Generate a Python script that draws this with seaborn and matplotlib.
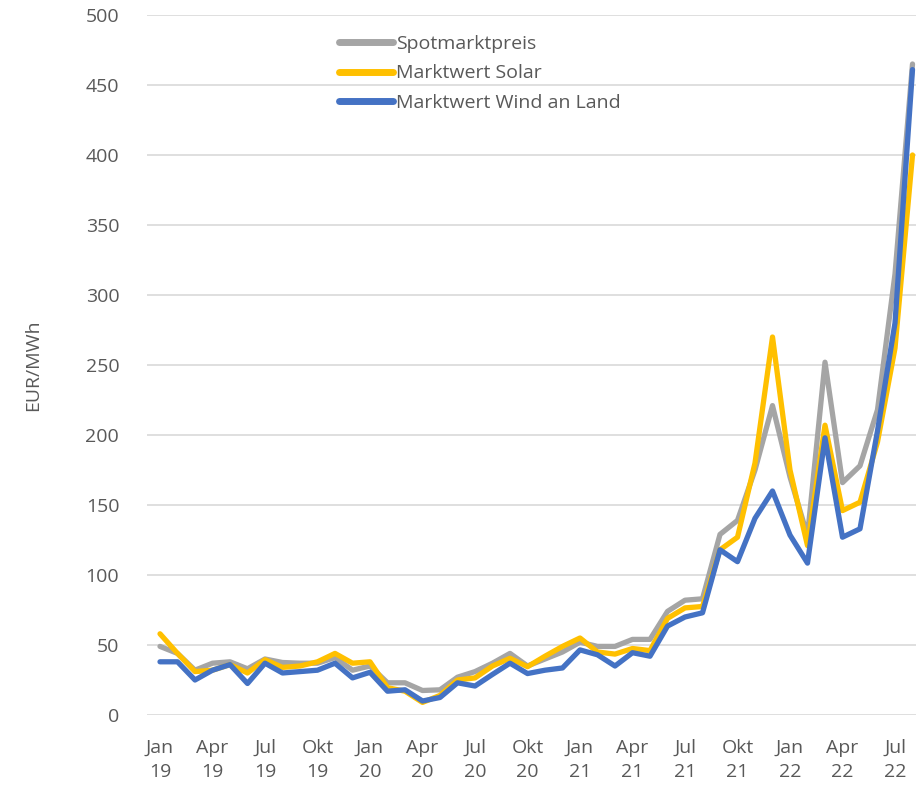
import matplotlib
matplotlib.use("Agg")
import matplotlib.pyplot as plt
import seaborn as sns
import pandas as pd
import numpy as np

# ---- data ----
month_names = ["Jan", "Feb", "Mär", "Apr", "Mai", "Jun", "Jul", "Aug", "Sep", "Okt", "Nov", "Dez"]
years = ["19", "20", "21", "22"]
n_months = 44

spot = [49, 44, 32, 37, 38, 33, 40, 37.5, 37, 37, 41, 32,
        35, 23, 23, 17.5, 18, 27, 31, 37, 44, 35, 40, 45,
        52, 49, 49, 54, 54, 74, 82, 83, 129, 139, 175, 221,
        170, 128, 252, 166, 178, 218, 315, 465]
solar = [58, 44, 31, 32, 36, 30, 39.5, 34, 35, 38, 44, 37,
         38, 19.5, 17, 9, 14, 25, 26.5, 35, 40.5, 34.5, 42, 49,
         55, 45, 43.5, 47.5, 46, 69, 76.5, 77.5, 118, 127, 180, 270,
         175, 121, 207, 146, 152, 195, 262, 400]
wind = [38, 38, 25, 32, 36, 22.5, 37, 30, 31, 32, 37, 26.5,
        30.5, 17, 18, 10, 12.5, 23, 20.7, 29, 37, 29.6, 32, 33.6,
        46.5, 43, 35, 44.5, 42, 63.5, 70, 73, 118, 109.5, 140.5, 160,
        128.5, 108.5, 198, 127, 133, 203, 280, 461]

series_names = ["Spotmarktpreis", "Marktwert Solar", "Marktwert Wind an Land"]
colors = ["#A5A5A5", "#FFC000", "#4472C4"]

tick_pos = list(range(0, n_months, 3))
tick_labels = [f"{month_names[i % 12]}\n{years[i // 12]}" for i in tick_pos]

df = pd.DataFrame({
    "idx": list(range(n_months)) * 3,
    "value": spot + solar + wind,
    "series": [series_names[0]] * n_months + [series_names[1]] * n_months + [series_names[2]] * n_months,
})

# ---- plot ----
sns.set_theme(style="white")
plt.rcParams["font.family"] = ["Open Sans", "DejaVu Sans"]

fig = plt.figure(figsize=(9.16, 7.85), dpi=100)
ax = fig.add_axes([147 / 916, 70 / 785, (916 - 147) / 916, 700 / 785])

sns.lineplot(data=df, x="idx", y="value", hue="series", hue_order=series_names,
             palette=colors, linewidth=3.8, ax=ax, legend=True)

ax.set_xlim(-0.743, 43.2)
ax.set_ylim(0, 500)
ax.set_yticks(range(0, 501, 50))
ax.set_xticks(tick_pos)
ax.set_xticklabels(tick_labels)

txt_color = "#595959"
ax.tick_params(axis="both", length=0, labelsize=14, colors=txt_color)
ax.tick_params(axis="y", pad=20)
ax.tick_params(axis="x", pad=17)
for lab in ax.get_xticklabels():
    lab.set_linespacing(1.45)

ax.grid(axis="y", color="#D9D9D9", linewidth=1.2)
ax.set_axisbelow(True)
for s in ax.spines.values():
    s.set_visible(False)

ax.set_xlabel("")
ax.set_ylabel("EUR/MWh", fontsize=14, color=txt_color, labelpad=31)

leg = ax.legend(loc="upper left", bbox_to_anchor=(331 / 916, 1 - 27 / 785),
                bbox_transform=fig.transFigure, frameon=False,
                fontsize=14, handlelength=2.8, handletextpad=0.15,
                labelspacing=0.6, borderaxespad=0)
for t in leg.get_texts():
    t.set_color(txt_color)
for h in leg.get_lines():
    h.set_linewidth(5)
    h.set_solid_capstyle("round")

fig.savefig("out.png", dpi=100)
